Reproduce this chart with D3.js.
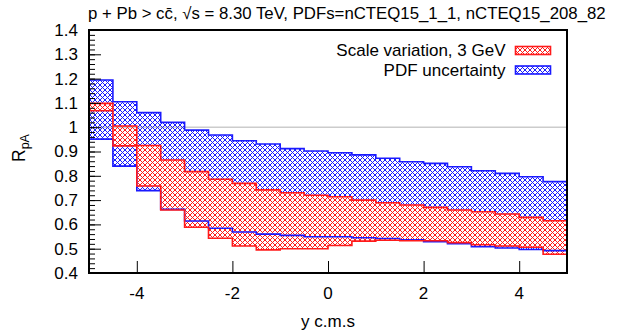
<!DOCTYPE html>
<html lang="en">
<head>
<meta charset="UTF-8">
<title>RpA charm, p+Pb 8.30 TeV</title>
<script src="https://d3js.org/d3.v7.min.js"></script>
<style>
    body { margin: 0; background: #fff; }
    svg { display: block; font-family: "Liberation Sans", Arial, sans-serif; }
    .tick-label { font-size: 17px; fill: #000; }
</style>
</head>
<body>
<svg id="chart"></svg>
<script>
    const width = 634, height = 335;
    const margin = { top: 30, right: 67, bottom: 62, left: 89 };

    // rapidity bins (lower edge), bin width 0.5
    const binLo = [-5, -4.5, -4, -3.5, -3, -2.5, -2, -1.5, -1, -0.5,
                   0, 0.5, 1, 1.5, 2, 2.5, 3, 3.5, 4, 4.5];
    const binWidth = 0.5;

    // PDF uncertainty band
    const pdfHi = [1.194, 1.105, 1.060, 1.020, 0.988, 0.968, 0.944, 0.931, 0.912, 0.902,
                   0.895, 0.886, 0.872, 0.858, 0.851, 0.837, 0.821, 0.810, 0.796, 0.776];
    const pdfLo = [0.951, 0.840, 0.739, 0.662, 0.614, 0.584, 0.569, 0.560, 0.555, 0.549,
                   0.549, 0.545, 0.542, 0.537, 0.529, 0.521, 0.508, 0.503, 0.497, 0.492];

    // scale variation band
    const scaleHi = [1.098, 1.005, 0.925, 0.865, 0.817, 0.786, 0.769, 0.742, 0.730, 0.720,
                     0.714, 0.700, 0.689, 0.680, 0.670, 0.659, 0.652, 0.643, 0.629, 0.615];
    const scaleLo = [1.068, 0.923, 0.758, 0.659, 0.588, 0.543, 0.511, 0.495, 0.500, 0.500,
                     0.513, 0.531, 0.535, 0.533, 0.533, 0.525, 0.516, 0.511, 0.506, 0.477];

    const xTicks = [-4, -2, 0, 2, 4];
    const yTicks = [0.4, 0.5, 0.6, 0.7, 0.8, 0.9, 1.0, 1.1, 1.2, 1.3, 1.4];

    const svg = d3.select("#chart").attr("width", width).attr("height", height);

    const x = d3.scaleLinear().domain([-5, 5]).range([margin.left, width - margin.right]);
    const y = d3.scaleLinear().domain([0.4, 1.4]).range([height - margin.bottom, margin.top]);

    // cross-hatch fills
    const defs = svg.append("defs");
    function hatch(id, color) {
        const p = defs.append("pattern")
            .attr("id", id)
            .attr("patternUnits", "userSpaceOnUse")
            .attr("width", 5).attr("height", 5);
        p.append("path")
            .attr("d", "M-1,1 L1,-1 M0,5 L5,0 M4,6 L6,4 M-1,4 L1,6 M0,0 L5,5 M4,-1 L6,1")
            .attr("stroke", color)
            .attr("stroke-width", 1)
            .attr("fill", "none");
    }
    hatch("hatch-red", "#ff1a1a");
    hatch("hatch-blue", "#1a1aff");

    // reference line at R = 1
    svg.append("line")
        .attr("x1", x(-5)).attr("x2", x(5))
        .attr("y1", y(1)).attr("y2", y(1))
        .attr("stroke", "#cccccc")
        .attr("stroke-width", 1.5);

    // step-shaped band outline: upper edge left to right, lower edge back
    function bandPath(hi, lo) {
        const pts = [];
        binLo.forEach((b, i) => {
            pts.push([x(b), y(hi[i])], [x(b + binWidth), y(hi[i])]);
        });
        for (let i = binLo.length - 1; i >= 0; i--) {
            pts.push([x(binLo[i] + binWidth), y(lo[i])], [x(binLo[i]), y(lo[i])]);
        }
        return d3.line()(pts) + "Z";
    }

    const bands = [
        { hi: pdfHi, lo: pdfLo, fill: "url(#hatch-blue)", stroke: "#1a1aff" },
        { hi: scaleHi, lo: scaleLo, fill: "url(#hatch-red)", stroke: "#ff1a1a" }
    ];

    bands.forEach(b => {
        svg.append("path")
            .attr("d", bandPath(b.hi, b.lo))
            .attr("fill", b.fill)
            .attr("stroke", "none");
    });
    bands.forEach(b => {
        svg.append("path")
            .attr("d", bandPath(b.hi, b.lo))
            .attr("fill", "none")
            .attr("stroke", b.stroke)
            .attr("stroke-width", 1.6);
    });

    // axes
    const yMinor = d3.range(0.4, 1.4001, 0.02);
    svg.append("g")
        .attr("transform", `translate(${margin.left},0)`)
        .call(d3.axisRight(y).tickValues(yMinor).tickSize(6).tickFormat(""))
        .call(g => g.select(".domain").remove())
        .call(g => g.selectAll("line").attr("stroke-width", 1));

    svg.append("g")
        .attr("transform", `translate(${margin.left},0)`)
        .call(d3.axisRight(y).tickValues(yTicks).tickSize(12).tickFormat(""))
        .call(g => g.select(".domain").remove())
        .call(g => g.selectAll("line").attr("stroke-width", 1));

    svg.append("g")
        .attr("transform", `translate(0,${height - margin.bottom})`)
        .call(d3.axisTop(x).tickValues(xTicks).tickSize(12).tickFormat(""))
        .call(g => g.select(".domain").remove())
        .call(g => g.selectAll("line").attr("stroke-width", 1));

    // tick labels
    svg.append("g").selectAll("text")
        .data(yTicks)
        .join("text")
        .attr("class", "tick-label")
        .attr("x", margin.left - 11)
        .attr("y", d => y(d))
        .attr("dy", "0.35em")
        .attr("text-anchor", "end")
        .text(d => d3.format("~g")(d));

    svg.append("g").selectAll("text")
        .data(xTicks)
        .join("text")
        .attr("class", "tick-label")
        .attr("x", d => x(d))
        .attr("y", height - margin.bottom + 20)
        .attr("dy", "0.35em")
        .attr("text-anchor", "middle")
        .text(d => d);

    // frame
    svg.append("rect")
        .attr("x", margin.left).attr("y", margin.top)
        .attr("width", width - margin.left - margin.right)
        .attr("height", height - margin.top - margin.bottom)
        .attr("fill", "none")
        .attr("stroke", "#000")
        .attr("stroke-width", 2);

    // titles
    svg.append("text")
        .attr("x", 88).attr("y", 19)
        .attr("font-size", 16.8)
        .text("p + Pb > cc\u0304, \u221As = 8.30 TeV, PDFs=nCTEQ15_1_1, nCTEQ15_208_82");

    svg.append("text")
        .attr("x", x(0)).attr("y", 327)
        .attr("text-anchor", "middle")
        .attr("font-size", 17)
        .text("y c.m.s");

    const rlabel = svg.append("text")
        .attr("transform", "translate(25,148) rotate(-90)")
        .attr("text-anchor", "middle")
        .attr("font-size", 17.5);
    rlabel.append("tspan").text("R");
    rlabel.append("tspan").attr("font-size", 12.5).attr("dy", 4).text("pA");

    // legend
    const legend = [
        { label: "Scale variation, 3 GeV", fill: "url(#hatch-red)", stroke: "#ff1a1a", cy: 50.5 },
        { label: "PDF uncertainty", fill: "url(#hatch-blue)", stroke: "#1a1aff", cy: 70 }
    ];
    const lg = svg.append("g");
    lg.selectAll("text")
        .data(legend)
        .join("text")
        .attr("x", 505.5)
        .attr("y", d => d.cy)
        .attr("dy", "0.35em")
        .attr("text-anchor", "end")
        .attr("font-size", 17)
        .text(d => d.label);
    lg.selectAll("rect")
        .data(legend)
        .join("rect")
        .attr("x", 515.5)
        .attr("y", d => d.cy - 4)
        .attr("width", 35)
        .attr("height", 8)
        .attr("fill", d => d.fill)
        .attr("stroke", d => d.stroke)
        .attr("stroke-width", 1.6);
</script>
</body>
</html>
